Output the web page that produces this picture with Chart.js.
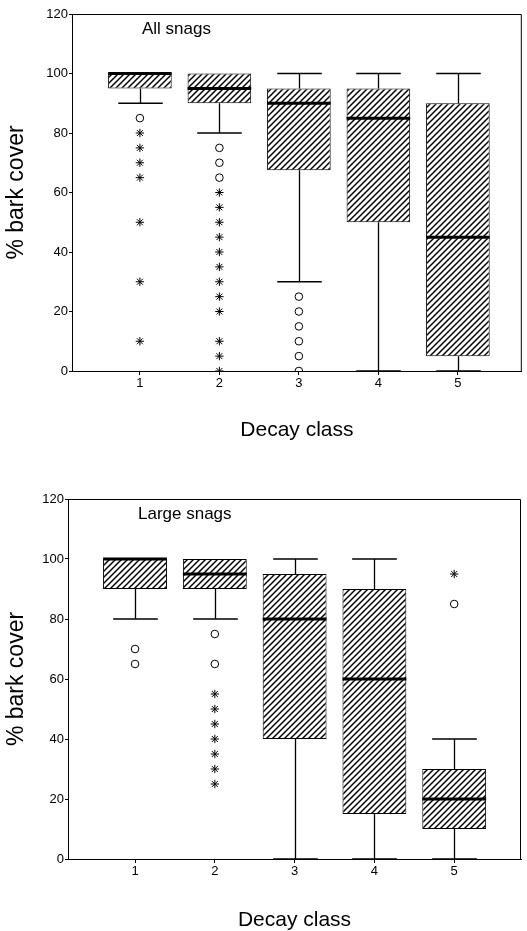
<!DOCTYPE html>
<html>
<head>
<meta charset="utf-8">
<title>Bark cover by decay class</title>
<script src="https://cdn.jsdelivr.net/npm/chart.js@4.4.1/dist/chart.umd.min.js"></script>
<style>
  html, body { margin: 0; padding: 0; background: #fff; }
  #wrap { position: relative; width: 527px; height: 931px; }
  .panel { position: absolute; left: 0; width: 527px; }
  #topPanel { top: 0; height: 465px; }
  #bottomPanel { top: 465px; height: 466px; }
</style>
</head>
<body>
<div id="wrap">
  <div class="panel" id="topPanel"><canvas id="allChart"></canvas></div>
  <div class="panel" id="bottomPanel"><canvas id="largeChart"></canvas></div>
</div>
<script>
// Categories and ticks
const decayClasses = [1, 2, 3, 4, 5];
const yTickValues = [0, 20, 40, 60, 80, 100, 120];

// All snags
const allLow = [90, 80, 30, 0, 0];
const allQ1 = [95, 90, 67.5, 50, 5];
const allMedian = [100, 95, 90, 85, 45];
const allQ3 = [100, 100, 95, 95, 90];
const allHigh = [100, 100, 100, 100, 100];
const allOutCircle = [[85], [75, 70, 65], [25, 20, 15, 10, 5, 0], [], []];
const allOutStar = [[80, 75, 70, 65, 50, 30, 10], [60, 55, 50, 45, 40, 35, 30, 25, 20, 10, 5, 0], [], [], []];

// Large snags
const largeLow = [80, 80, 0, 0, 0];
const largeQ1 = [90, 90, 40, 15, 10];
const largeMedian = [100, 95, 80, 60, 20];
const largeQ3 = [100, 100, 95, 90, 30];
const largeHigh = [100, 100, 100, 100, 40];
const largeOutCircle = [[70, 65], [75, 65], [], [], [85]];
const largeOutStar = [[], [55, 50, 45, 40, 35, 30, 25], [], [], [95]];

Chart.defaults.font.family = "'Liberation Sans', Arial, Helvetica, sans-serif";
Chart.defaults.color = '#000';

// Diagonal hatch fill for the boxes
function makeHatch(ctx) {
    const size = 6;
    const c = document.createElement('canvas');
    c.width = size;
    c.height = size;
    const g = c.getContext('2d');
    g.fillStyle = '#fff';
    g.fillRect(0, 0, size, size);
    g.strokeStyle = '#000';
    g.lineWidth = 1.5;
    g.beginPath();
    g.moveTo(0, size); g.lineTo(size, 0);
    g.moveTo(-size, size); g.lineTo(size, -size);
    g.moveTo(0, size * 2); g.lineTo(size * 2, 0);
    g.stroke();
    return ctx.createPattern(c, 'repeat');
}

function toPoints(groups) {
    return groups.flatMap((vals, i) => vals.map(v => ({ x: decayClasses[i], y: v })));
}

// whiskers, medians, frame and panel label
function boxParts(stats, label) {
    return {
        id: 'boxParts',
        beforeDatasetsDraw(chart) {
            const { ctx, chartArea: a } = chart;
            ctx.save();
            ctx.strokeStyle = '#000';
            ctx.lineWidth = 1;
            ctx.beginPath();
            ctx.moveTo(a.left, a.top + 0.5);
            ctx.lineTo(a.right - 0.5, a.top + 0.5);
            ctx.lineTo(a.right - 0.5, a.bottom);
            ctx.stroke();

            const x = chart.scales.x, y = chart.scales.y;
            ctx.lineWidth = 1.3;
            decayClasses.forEach((c, i) => {
                const cx = Math.round(x.getPixelForValue(c)) + 0.5;
                const capHalf = x.getPixelForValue(c + 0.28) - x.getPixelForValue(c);
                ctx.beginPath();
                if (stats.high[i] > stats.q3[i]) {
                    const yh = y.getPixelForValue(stats.high[i]);
                    ctx.moveTo(cx, y.getPixelForValue(stats.q3[i]));
                    ctx.lineTo(cx, yh);
                    ctx.moveTo(cx - capHalf, yh);
                    ctx.lineTo(cx + capHalf, yh);
                }
                if (stats.low[i] < stats.q1[i]) {
                    const yl = y.getPixelForValue(stats.low[i]);
                    ctx.moveTo(cx, y.getPixelForValue(stats.q1[i]));
                    ctx.lineTo(cx, yl);
                    ctx.moveTo(cx - capHalf, yl);
                    ctx.lineTo(cx + capHalf, yl);
                }
                ctx.stroke();
            });
            ctx.restore();
        },
        afterDatasetsDraw(chart) {
            const { ctx, chartArea: a } = chart;
            const y = chart.scales.y;
            const bars = chart.getDatasetMeta(0).data;
            ctx.save();
            ctx.strokeStyle = '#000';
            ctx.lineWidth = 3;
            bars.forEach((bar, i) => {
                const ym = y.getPixelForValue(stats.median[i]);
                ctx.beginPath();
                ctx.moveTo(bar.x - bar.width / 2, ym);
                ctx.lineTo(bar.x + bar.width / 2, ym);
                ctx.stroke();
            });
            ctx.fillStyle = '#000';
            ctx.font = "17px 'Liberation Sans', Arial, sans-serif";
            ctx.textAlign = 'left';
            ctx.textBaseline = 'alphabetic';
            ctx.fillText(label, a.left + 70, a.top + 20);
            ctx.restore();
        }
    };
}

function buildChart(canvasId, stats, outCircle, outStar, label, geom) {
    const ctx = document.getElementById(canvasId).getContext('2d');
    return new Chart(ctx, {
        type: 'bar',
        data: {
            datasets: [
                {
                    label: 'box',
                    data: decayClasses.map((c, i) => ({ x: c, y: [stats.q1[i], stats.q3[i]] })),
                    backgroundColor: makeHatch(ctx),
                    borderColor: '#000',
                    borderWidth: 1,
                    borderSkipped: false,
                    barPercentage: 1,
                    categoryPercentage: 0.8,
                    order: 2
                },
                {
                    type: 'scatter',
                    label: 'outliers',
                    data: toPoints(outCircle),
                    pointStyle: 'circle',
                    radius: 3.8,
                    backgroundColor: '#fff',
                    borderColor: '#000',
                    borderWidth: 1,
                    clip: 0,
                    order: 1
                },
                {
                    type: 'scatter',
                    label: 'extremes',
                    data: toPoints(outStar),
                    pointStyle: 'star',
                    radius: 4.2,
                    backgroundColor: '#000',
                    borderColor: '#000',
                    borderWidth: 1,
                    clip: 0,
                    order: 1
                }
            ]
        },
        options: {
            responsive: true,
            maintainAspectRatio: false,
            animation: false,
            layout: { padding: { top: geom.top, right: geom.right, left: 0, bottom: 0 } },
            plugins: {
                legend: { display: false },
                tooltip: { enabled: false }
            },
            scales: {
                x: {
                    type: 'linear',
                    min: geom.xMin,
                    max: geom.xMax,
                    offset: false,
                    afterBuildTicks: s => { s.ticks = decayClasses.map(v => ({ value: v })); },
                    afterFit: s => { s.height = geom.xHeight; },
                    grid: { offset: false, drawOnChartArea: false, drawTicks: true, tickLength: 4, color: '#000' },
                    border: { display: true, color: '#000', width: 1 },
                    ticks: { font: { size: 13 }, color: '#000', padding: 1, maxRotation: 0 },
                    title: {
                        display: true,
                        text: 'Decay class',
                        font: { size: 21, lineHeight: 1 },
                        color: '#000',
                        padding: { top: 0, bottom: geom.titlePad }
                    }
                },
                y: {
                    min: 0,
                    max: 120,
                    afterBuildTicks: s => { s.ticks = yTickValues.map(v => ({ value: v })); },
                    afterFit: s => { s.width = geom.yWidth; },
                    grid: { drawOnChartArea: false, drawTicks: true, tickLength: 3, color: '#000' },
                    border: { display: true, color: '#000', width: 1 },
                    ticks: { font: { size: 13 }, color: '#000', padding: 1 },
                    title: {
                        display: true,
                        text: '% bark cover',
                        font: { size: 23 },
                        color: '#000',
                        padding: { top: 3, bottom: 0 }
                    }
                }
            }
        },
        plugins: [boxParts(stats, label)]
    });
}

buildChart('allChart',
    { low: allLow, q1: allQ1, median: allMedian, q3: allQ3, high: allHigh },
    allOutCircle, allOutStar, 'All snags',
    { top: 14, right: 1, xMin: 0.146, xMax: 5.804, xHeight: 94, yWidth: 72, titlePad: 24.5 });

buildChart('largeChart',
    { low: largeLow, q1: largeQ1, median: largeMedian, q3: largeQ3, high: largeHigh },
    largeOutCircle, largeOutStar, 'Large snags',
    { top: 34, right: 6, xMin: 0.16, xMax: 5.837, xHeight: 72, yWidth: 68, titlePad: 0.5 });
</script>
</body>
</html>
